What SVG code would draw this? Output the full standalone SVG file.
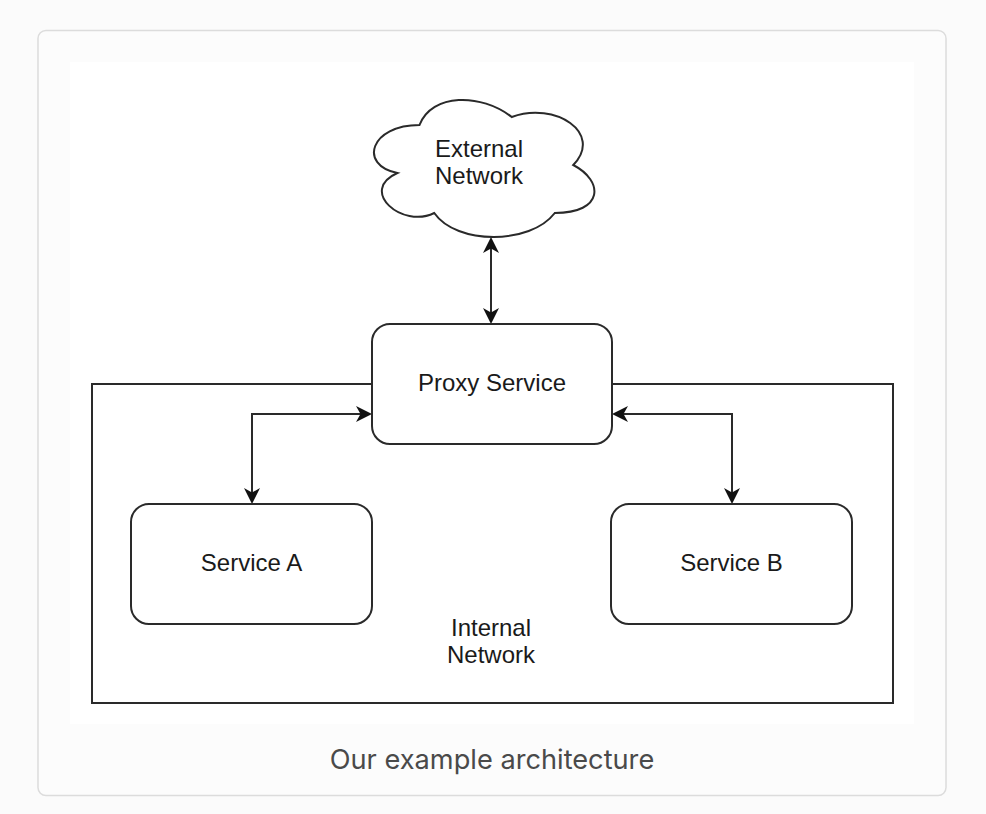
<svg xmlns="http://www.w3.org/2000/svg" width="986" height="814" viewBox="0 0 986 814">
  <defs>
    <style>
      .box { fill: #ffffff; stroke: #2a2a2a; stroke-width: 2; }
      .lbl { font-family: "Liberation Sans", Arial, Helvetica, sans-serif; font-size: 24px; fill: #1a1a1a; text-anchor: middle; }
      .conn { fill: none; stroke: #2a2a2a; stroke-width: 2; }
      .caption { font-family: Inter, "Open Sans", sans-serif; font-size: 27.2px; fill: #4a4a4a; text-anchor: middle; }
    </style>
    <marker id="arr" viewBox="0 0 16 16" markerWidth="16" markerHeight="16" refX="12" refY="8" orient="auto-start-reverse" markerUnits="userSpaceOnUse">
      <path d="M0,0 L16,8 L0,16 L4.5,8 Z" fill="#111111"/>
    </marker>
  </defs>

  <rect x="0" y="0" width="986" height="814" fill="#fbfbfb"/>
  <rect id="card" x="38" y="30.5" width="908" height="765" rx="8" fill="#fcfcfc" stroke="#dcdcdc" stroke-width="1.5"/>
  <rect x="70" y="62" width="844" height="662" fill="#ffffff"/>

  <g id="internal-network">
    <rect x="92" y="384" width="801" height="319" fill="none" stroke="#2a2a2a" stroke-width="2"/>
    <text class="lbl" x="491" y="636">Internal</text>
    <text class="lbl" x="491" y="663">Network</text>
  </g>

  <g id="external-network">
    <path class="box" transform="translate(358,85) scale(246,160)" vector-effect="non-scaling-stroke"
      d="M0.25,0.25 C0.05,0.25 0,0.5 0.16,0.55 C0,0.66 0.18,0.9 0.31,0.8 C0.4,1 0.7,1 0.8,0.8 C1,0.8 1,0.6 0.875,0.5 C1,0.3 0.8,0.1 0.625,0.2 C0.5,0.05 0.3,0.05 0.25,0.25 Z"/>
    <text class="lbl" x="479" y="157">External</text>
    <text class="lbl" x="479" y="184">Network</text>
  </g>

  <g id="connectors">
    <path class="conn" d="M491,241 L491,320" marker-start="url(#arr)" marker-end="url(#arr)"/>
    <path class="conn" d="M368,414 L252,414 L252,500" marker-start="url(#arr)" marker-end="url(#arr)"/>
    <path class="conn" d="M616,414 L732,414 L732,500" marker-start="url(#arr)" marker-end="url(#arr)"/>
  </g>

  <g id="proxy-service">
    <rect class="box" x="372" y="324" width="240" height="120" rx="18"/>
    <text class="lbl" x="492" y="391">Proxy Service</text>
  </g>

  <g id="service-a">
    <rect class="box" x="131" y="504" width="241" height="120" rx="18"/>
    <text class="lbl" x="251.5" y="571">Service A</text>
  </g>

  <g id="service-b">
    <rect class="box" x="611" y="504" width="241" height="120" rx="18"/>
    <text class="lbl" x="731.5" y="571">Service B</text>
  </g>

  <text class="caption" x="492" y="769">Our example architecture</text>
</svg>
